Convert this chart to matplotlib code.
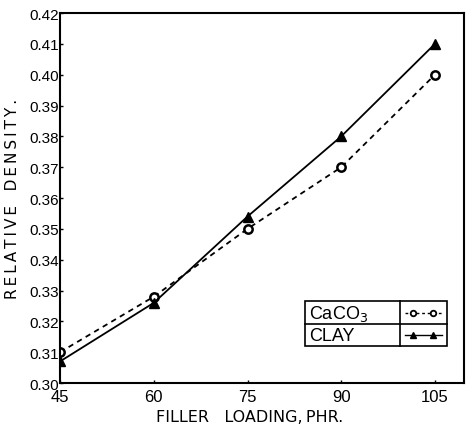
import numpy as np
import matplotlib.pyplot as plt
from matplotlib.lines import Line2D
from matplotlib.patches import Rectangle

plt.rcParams['font.family'] = ['Liberation Sans', 'DejaVu Sans']

loading = [45, 60, 75, 90, 105]
caco3 = [0.310, 0.328, 0.350, 0.370, 0.400]
clay = [0.307, 0.326, 0.354, 0.380, 0.410]
yticks = np.round(np.arange(0.30, 0.421, 0.01), 2)


def spaced(s):
    # thin spaces between letters, like the typewriter lettering
    return '\u2009'.join(s)


fig = plt.figure(figsize=(4.7, 4.31), dpi=100)
ax = fig.add_axes([0.1277, 0.109, 0.859, 0.8585])

ax.plot(loading, caco3, color='black', lw=1.3, ls=(0, (3, 2.5)),
        marker='o', ms=6, mfc='white', mec='black', mew=1.8)
ax.plot(loading, clay, color='black', lw=1.3, ls='-',
        marker='^', ms=7, mfc='black', mec='black')

ax.set_xlim(45, 109.6)
ax.set_ylim(0.30, 0.42)
ax.set_xticks(loading)
ax.set_yticks(yticks)
ax.set_yticklabels(['%.2f' % v for v in yticks])
ax.tick_params(direction='in', length=2, width=1)
ax.tick_params(axis='y', pad=1, labelsize=11)
ax.tick_params(axis='x', pad=4, labelsize=12)
for s in ax.spines.values():
    s.set_linewidth(1.5)

ax.set_xlabel('FILLER   LOADING,\u2009PHR.', fontsize=11.5, family='DejaVu Sans')
ax.xaxis.set_label_coords(0.47, -0.07)
ax.set_ylabel(spaced('RELATIVE') + '   ' + spaced('DENSITY.'),
              fontsize=11, family='DejaVu Sans')
ax.yaxis.set_label_coords(-0.1, 0.5)

# table-like legend box
x0, x1, xd = 0.606, 0.958, 0.842
y0, y1, ym = 0.100, 0.222, 0.159
ax.add_patch(Rectangle((x0, y0), x1 - x0, y1 - y0, transform=ax.transAxes,
                       fill=False, lw=1.2, color='black'))
ax.add_line(Line2D([xd, xd], [y0, y1], transform=ax.transAxes, color='black', lw=1.2))
ax.add_line(Line2D([x0, x1], [ym, ym], transform=ax.transAxes, color='black', lw=1.2))
ax.text(x0 + 0.01, (ym + y1) / 2, 'CaCO$_3$', transform=ax.transAxes,
        fontsize=13, va='center', ha='left')
ax.text(x0 + 0.01, (y0 + ym) / 2, 'CLAY', transform=ax.transAxes,
        fontsize=13, va='center', ha='left')
sx = [0.855, 0.875, 0.925, 0.945]
ax.add_line(Line2D(sx, [(ym + y1) / 2] * 4, transform=ax.transAxes,
                   color='black', lw=1, ls=(0, (2, 2)), marker='o', ms=4,
                   mfc='white', mec='black', mew=1.3, markevery=[1, 2]))
ax.add_line(Line2D(sx, [(y0 + ym) / 2] * 4, transform=ax.transAxes,
                   color='black', lw=1, marker='^', ms=4.5, mfc='black',
                   markevery=[1, 2]))

fig.savefig('out.png', dpi=100)
